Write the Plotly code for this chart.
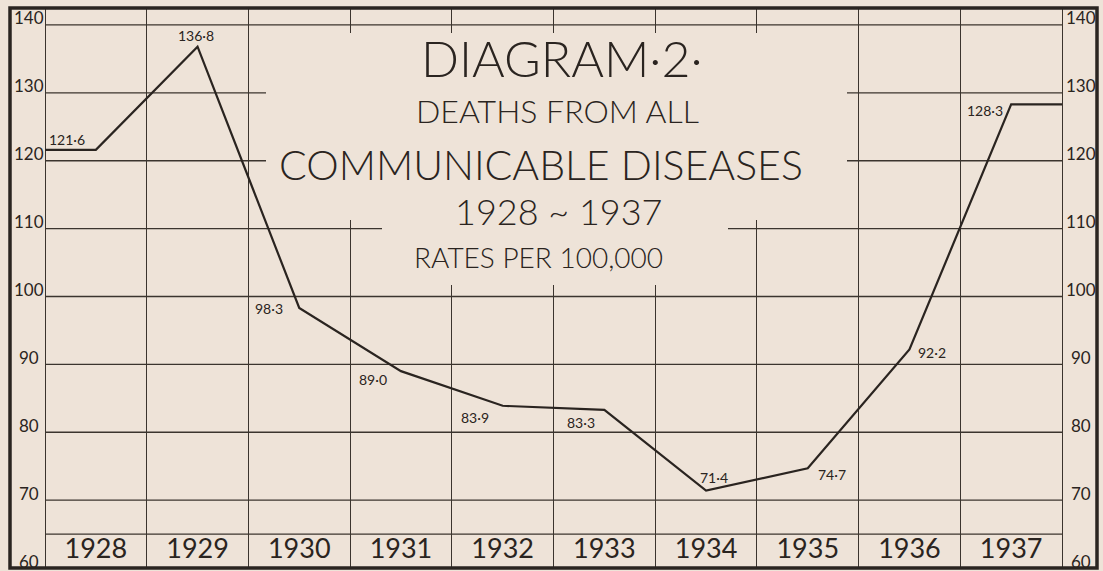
import plotly.graph_objects as go

# ---- data ----
years = [1928, 1929, 1930, 1931, 1932, 1933, 1934, 1935, 1936, 1937]
rates = [121.6, 136.8, 98.3, 89.0, 83.9, 83.3, 71.4, 74.7, 92.2, 128.3]
rate_labels = ["121·6", "136·8", "98·3", "89·0", "83·9", "83·3", "71·4", "74·7", "92·2", "128·3"]
y_ticks = [60, 70, 80, 90, 100, 110, 120, 130, 140]
y_tick_labels = ["60", "70", "80", "90", "100", "110", "120", "130", "140"]
grid_levels = [65, 70, 80, 90, 100, 110, 120, 130, 140]
title_lines = ["DIAGRAM·2·", "DEATHS FROM ALL", "COMMUNICABLE DISEASES", "1928 ~ 1937", "RATES PER 100,000"]

# ---- style / placement ----
BG = "#eee3d8"
INK = "#2a2420"
GRID = "#3b342e"
FONT = "Lato"

label_offsets = [(-29, -10), (-2, -11), (-30, 0), (-28, 8), (-28, 12),
                 (-23, 13), (8, -13), (24, 6), (23, 3), (-26, 6)]
# (center x px, center y px, font size, weight)
title_pos = [(562, 58, 50, 300), (557, 110, 32, 300), (541, 164, 41, 300),
             (558, 211, 36, 300), (538, 257, 28, 300)]

W, H = 1103, 571
L, R, T, B = 10, 1097, 8, 568
pxu = 101.7
x0 = years[0] - 0.5 - (45 - L) / pxu
x1 = x0 + (R - L) / pxu
ylo, yhi = 60, 142.5

def px_to_x(px):
    return x0 + (px - L) / pxu

def py_to_y(py):
    return yhi - (py - T) * (yhi - ylo) / (B - T)

def fnt(size, weight=400):
    return dict(family=FONT, size=size, color=INK, weight=weight)

fig = go.Figure()

# main line, extended horizontally to the inner frame lines
line_x = [years[0] - 0.5] + years + [years[-1] + 0.5]
line_y = [rates[0]] + rates + [rates[-1]]
fig.add_trace(go.Scatter(x=line_x, y=line_y, mode="lines",
                         line=dict(color=INK, width=2.2), hoverinfo="skip",
                         showlegend=False))

# year labels in bottom strip
fig.add_trace(go.Scatter(x=years, y=[(grid_levels[0] + ylo) / 2] * len(years),
                         mode="text", text=[str(y) for y in years],
                         textfont=fnt(27, 400), hoverinfo="skip", showlegend=False))

shapes = []
# horizontal grid lines between inner verticals
for g in grid_levels:
    shapes.append(dict(type="line", xref="x", yref="y",
                       x0=years[0] - 0.5, x1=years[-1] + 0.5, y0=g, y1=g,
                       line=dict(color=GRID, width=1.3), layer="between"))
# blank area behind the title (covers grid)
shapes.append(dict(type="rect", xref="x", yref="y",
                   x0=px_to_x(266), x1=px_to_x(847), y0=py_to_y(220), y1=py_to_y(33),
                   fillcolor=BG, line=dict(width=0), layer="between"))
shapes.append(dict(type="rect", xref="x", yref="y",
                   x0=px_to_x(382), x1=px_to_x(728), y0=py_to_y(285), y1=py_to_y(219),
                   fillcolor=BG, line=dict(width=0), layer="between"))
# outer frame
shapes.append(dict(type="rect", xref="paper", yref="paper", x0=0, x1=1, y0=0, y1=1,
                   line=dict(color=INK, width=3.5), layer="above"))

annotations = []
for x, v, t, (dx, dy) in zip(years, rates, rate_labels, label_offsets):
    annotations.append(dict(x=x, y=v, xref="x", yref="y", text=t, showarrow=False,
                            xanchor="center", yanchor="middle",
                            xshift=dx, yshift=-dy, font=fnt(14)))
for v, t in zip(y_ticks, y_tick_labels):
    for xp in [(29 - L) / (R - L), (1081 - L) / (R - L)]:
        annotations.append(dict(x=xp, y=v, xref="paper", yref="y", text=t,
                                showarrow=False, xanchor="center", yanchor="middle",
                                yshift=7, font=fnt(17)))
for t, (cx, cy, fs, fw) in zip(title_lines, title_pos):
    annotations.append(dict(x=(cx - L) / (R - L), y=(B - cy) / (B - T),
                            xref="paper", yref="paper", text=t, showarrow=False,
                            xanchor="center", yanchor="middle", font=fnt(fs, fw)))

fig.update_layout(
    width=W, height=H,
    margin=dict(l=L, r=W - R, t=T, b=H - B),
    paper_bgcolor=BG, plot_bgcolor=BG,
    xaxis=dict(range=[x0, x1], tickvals=[y - 0.5 for y in years] + [years[-1] + 0.5],
               showticklabels=False, showgrid=True, gridcolor=GRID, gridwidth=1.3,
               zeroline=False, showline=False, ticks=""),
    yaxis=dict(range=[ylo, yhi], showgrid=False, showticklabels=False,
               zeroline=False, showline=False, ticks=""),
    shapes=shapes, annotations=annotations,
)

fig.write_html("out.html", config={"displayModeBar": False},
               post_script="document.body.style.margin='0';document.body.style.overflow='hidden';")
